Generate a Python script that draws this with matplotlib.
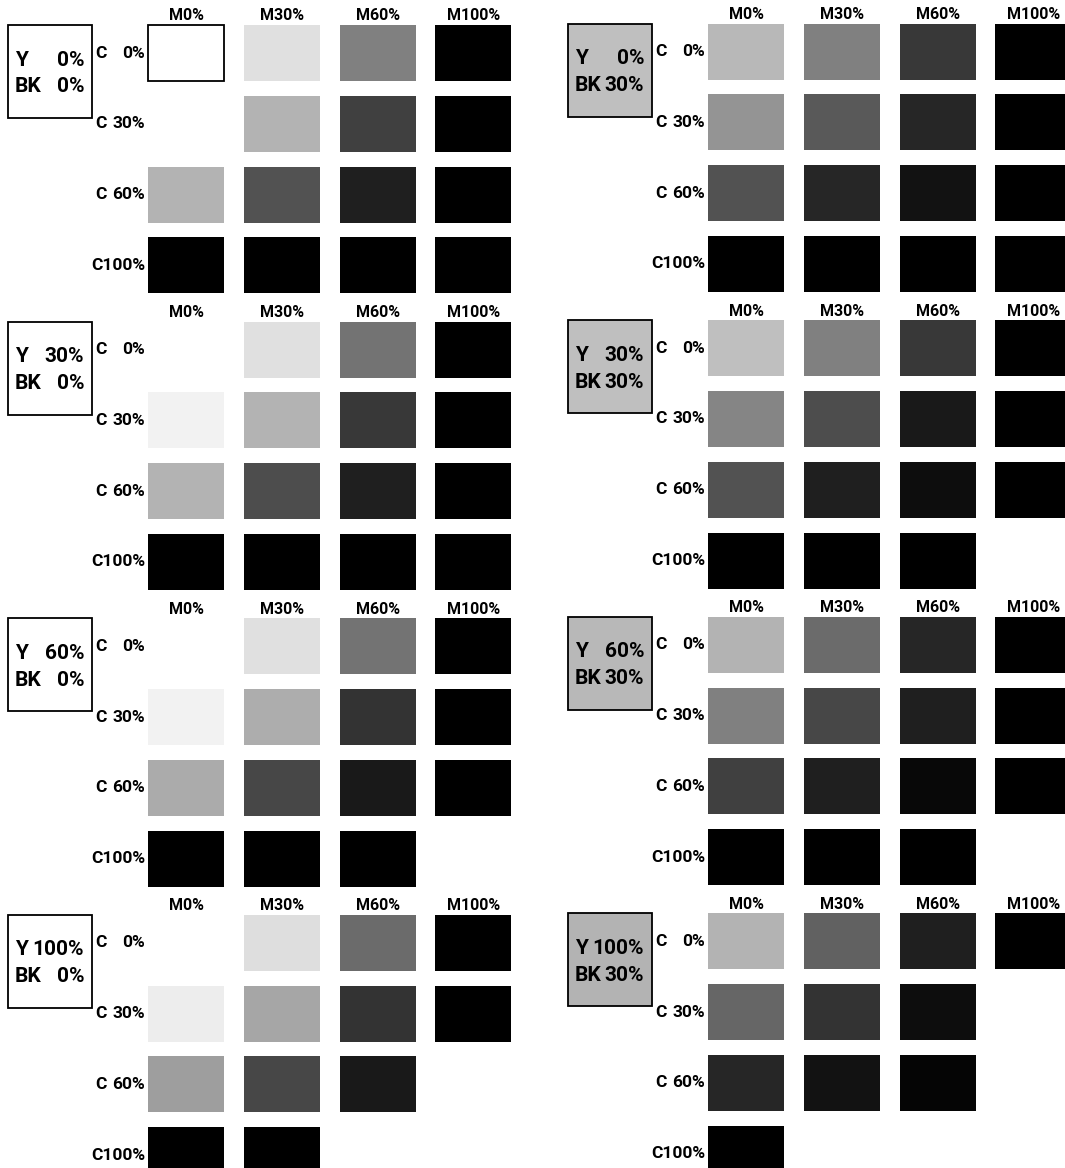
import numpy as np
import matplotlib.pyplot as plt
from matplotlib.patches import Rectangle

plt.rcParams['font.family'] = ['Roboto', 'DejaVu Sans']

m_labels = ['M0%', 'M30%', 'M60%', 'M100%']
c_labels = ['0%', '30%', '60%', '100%']
y_labels = ['0%', '30%', '60%', '100%']
bk_labels = ['0%', '30%']

nan = np.nan
# darkness of each printed swatch (0 = paper, 1 = solid black)
# rows: C0, C30, C60, C100 / cols: M0, M30, M60, M100 / nan = not printed
y0_bk0 = [[0.00, 0.12, 0.50, 1.00],
          [0.00, 0.30, 0.75, 1.00],
          [0.30, 0.68, 0.88, 1.00],
          [1.00, 1.00, 1.00, 1.00]]
y30_bk0 = [[0.00, 0.12, 0.55, 1.00],
           [0.05, 0.30, 0.78, 1.00],
           [0.30, 0.70, 0.88, 1.00],
           [1.00, 1.00, 1.00, 1.00]]
y60_bk0 = [[0.00, 0.12, 0.55, 1.00],
           [0.05, 0.32, 0.80, 1.00],
           [0.33, 0.72, 0.90, 1.00],
           [1.00, 1.00, 1.00, nan]]
y100_bk0 = [[0.00, 0.13, 0.58, 1.00],
            [0.07, 0.35, 0.80, 1.00],
            [0.38, 0.72, 0.90, nan],
            [1.00, 1.00, nan, nan]]
y0_bk30 = [[0.28, 0.50, 0.78, 1.00],
           [0.42, 0.65, 0.85, 1.00],
           [0.68, 0.85, 0.93, 1.00],
           [1.00, 1.00, 1.00, 1.00]]
y30_bk30 = [[0.25, 0.50, 0.78, 1.00],
            [0.48, 0.70, 0.90, 1.00],
            [0.68, 0.88, 0.95, 1.00],
            [1.00, 1.00, 1.00, nan]]
y60_bk30 = [[0.30, 0.58, 0.85, 1.00],
            [0.50, 0.72, 0.88, 1.00],
            [0.75, 0.88, 0.97, 1.00],
            [1.00, 1.00, 1.00, nan]]
y100_bk30 = [[0.30, 0.62, 0.88, 1.00],
             [0.60, 0.80, 0.95, nan],
             [0.85, 0.93, 0.98, nan],
             [1.00, nan, nan, nan]]

box_tone_bk0 = [0.0, 0.0, 0.0, 0.0]
box_tone_bk30 = [0.25, 0.25, 0.28, 0.30]

panels_bk0 = [y0_bk0, y30_bk0, y60_bk0, y100_bk0]
panels_bk30 = [y0_bk30, y30_bk30, y60_bk30, y100_bk30]

# layout (pixels)
col_left = [148, 708]
row_top = [25, 23.5]
box_left = [8, 568]
panel_pitch = 296.6
col_pitch = 95.8
row_pitch = 70.8
sw_w, sw_h = 76, 56
box_w, box_h = 84, 93

fig = plt.figure(figsize=(10.65, 11.68), dpi=100)
ax = fig.add_axes([0, 0, 1, 1])
ax.set_xlim(0, 1065)
ax.set_ylim(1168, 0)
ax.axis('off')


def gray(d):
    v = 1 - d
    return (v, v, v)


for side, (panels, tones) in enumerate([(panels_bk0, box_tone_bk0), (panels_bk30, box_tone_bk30)]):
    for p, grid in enumerate(panels):
        top = row_top[side] + p * panel_pitch
        x0 = col_left[side]

        # Y / BK box
        bx = box_left[side]
        ax.add_patch(Rectangle((bx, top), box_w, box_h, facecolor=gray(tones[p]),
                               edgecolor='black', lw=1.3))
        for k, (name, val) in enumerate([('Y', y_labels[p]), ('BK', bk_labels[side])]):
            ty = top + 35 + k * 27
            ax.text(bx + 7, ty, name, ha='left', va='center', fontsize=15, fontweight='bold')
            ax.text(bx + 76, ty, val, ha='right', va='center', fontsize=15, fontweight='bold')

        # column headers
        for j, lab in enumerate(m_labels):
            ax.text(x0 + j * col_pitch + sw_w / 2, top - 9, lab, ha='center', va='center',
                    fontsize=11.5, fontweight='bold')

        # row labels: "C" flush left, percentage flush right
        for i in range(4):
            cy = top + i * row_pitch + sw_h / 2
            if c_labels[i] == '100%':
                ax.text(x0 - 3, cy, 'C' + c_labels[i], ha='right', va='center',
                        fontsize=12.5, fontweight='bold')
            else:
                ax.text(x0 - 53, cy, 'C', ha='left', va='center', fontsize=12.5, fontweight='bold')
                ax.text(x0 - 3, cy, c_labels[i], ha='right', va='center',
                        fontsize=12.5, fontweight='bold')
            for j in range(4):
                d = grid[i][j]
                if np.isnan(d):
                    continue
                outlined = side == 0 and p == 0 and i == 0 and j == 0
                ax.add_patch(Rectangle((x0 + j * col_pitch, top + i * row_pitch), sw_w, sw_h,
                                       facecolor=gray(d),
                                       edgecolor='black' if outlined else 'none',
                                       lw=1.3 if outlined else 0))

fig.savefig('out.png', dpi=100)
